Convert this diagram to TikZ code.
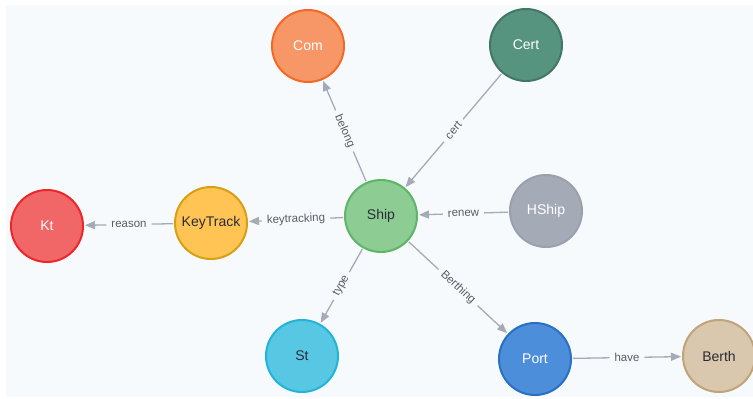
\documentclass[tikz,border=0pt]{standalone}
\usepackage{fontspec}
\setmainfont{Liberation Sans}
\usetikzlibrary{arrows.meta}

\definecolor{canvas}{HTML}{F7FAFD}
\definecolor{edgegray}{HTML}{A5ABB6}
\definecolor{labelgray}{HTML}{595C66}
\definecolor{darktext}{HTML}{2A2C34}
\definecolor{comfill}{HTML}{F79767}   \definecolor{comline}{HTML}{F36924}
\definecolor{certfill}{HTML}{569480}  \definecolor{certline}{HTML}{447666}
\definecolor{shipfill}{HTML}{8DCC93}  \definecolor{shipline}{HTML}{5DB665}
\definecolor{hshipfill}{HTML}{A5ABB6} \definecolor{hshipline}{HTML}{9AA1AC}
\definecolor{ktfill}{HTML}{FFC454}    \definecolor{ktline}{HTML}{D7A013}
\definecolor{redfill}{HTML}{F16667}   \definecolor{redline}{HTML}{EB2728}
\definecolor{stfill}{HTML}{57C7E3}    \definecolor{stline}{HTML}{23B3D7}
\definecolor{portfill}{HTML}{4C8EDA}  \definecolor{portline}{HTML}{2870C2}
\definecolor{berthfill}{HTML}{D9C8AE} \definecolor{berthline}{HTML}{C0A378}

\tikzset{
  ent/.style={circle, minimum size=72pt, inner sep=0pt, line width=2pt,
              font=\fontsize{14}{14}\selectfont},
  lighttext/.style={text=white},
  darklabel/.style={text=darktext},
  rel/.style={draw=edgegray, line width=1.3pt,
              -{Triangle[length=10pt,width=8pt]},
              shorten <=1pt, shorten >=1pt},
  rellabel/.style={sloped, fill=canvas, inner xsep=5pt, inner ysep=3pt,
                   text=labelgray, font=\fontsize{11.5}{11.5}\selectfont}
}

\begin{document}
\begin{tikzpicture}[x=1pt, y=-1pt]
  \useasboundingbox (0,0) rectangle (753,399);
  \fill[white] (0,0) rectangle (753,399);
  \fill[canvas] (6,5) rectangle (753,397);

  % entities
  \node[ent, lighttext, fill=comfill, draw=comline] (com)  at (308,46)  {Com};
  \node[ent, lighttext, fill=certfill, draw=certline] (cert) at (526,45)  {Cert};
  \node[ent, darklabel, fill=shipfill, draw=shipline] (ship) at (381,216) {Ship};
  \node[ent, lighttext, fill=hshipfill, draw=hshipline] (hship) at (546,211) {HShip};
  \node[ent, darklabel, fill=ktfill, draw=ktline] (kt)   at (211,223) {KeyTrack};
  \node[ent, lighttext, fill=redfill, draw=redline] (ktr)  at (47,226)  {Kt};
  \node[ent, darklabel, fill=stfill, draw=stline] (st)   at (302,356) {St};
  \node[ent, lighttext, fill=portfill, draw=portline] (port) at (535,359) {Port};
  \node[ent, darklabel, fill=berthfill, draw=berthline] (berth) at (719,356) {Berth};

  % relationships
  \draw[rel] (ship) -- node[rellabel] {belong} (com);
  \draw[rel] (cert) -- node[rellabel] {cert} (ship);
  \draw[rel] (hship) -- node[rellabel] {renew} (ship);
  \draw[rel] (ship) -- node[rellabel] {keytracking} (kt);
  \draw[rel] (kt) -- node[rellabel] {reason} (ktr);
  \draw[rel] (ship) -- node[rellabel] {type} (st);
  \draw[rel] (ship) -- node[rellabel] {Berthing} (port);
  \draw[rel] (port) -- node[rellabel] {have} (berth);
\end{tikzpicture}
\end{document}
